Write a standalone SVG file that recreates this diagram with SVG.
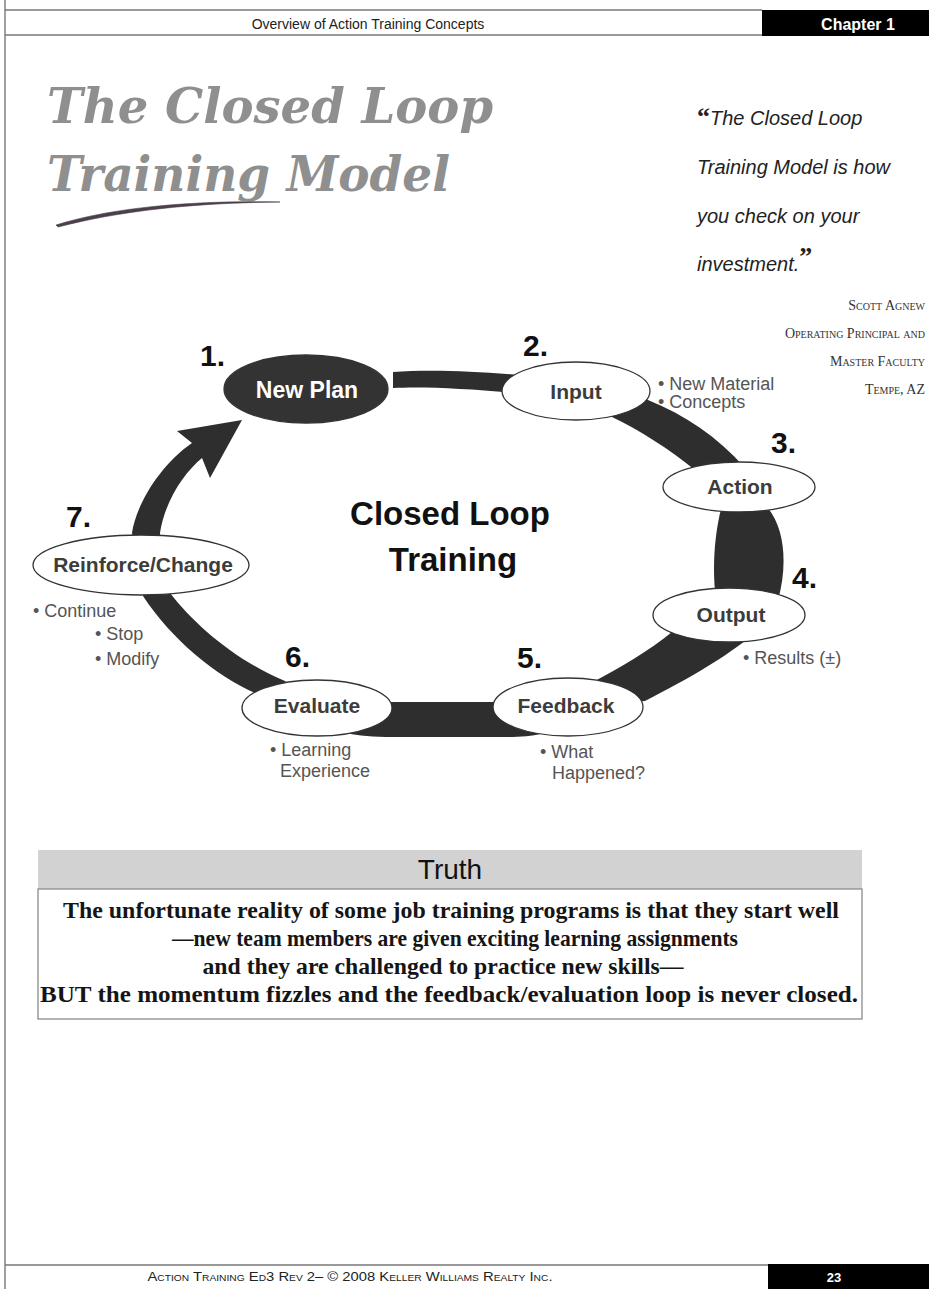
<svg xmlns="http://www.w3.org/2000/svg" width="929" height="1289" viewBox="0 0 929 1289">
<style>
.band{fill:#2e2e2e}
.node{fill:#fff;stroke:#333;stroke-width:1.3}
.lbl{font-family:"Liberation Sans",Arial,sans-serif;font-weight:bold;font-size:21px;fill:#3c3c3c;text-anchor:middle}
.num{font-family:"Liberation Sans",Arial,sans-serif;font-weight:bold;font-size:30px;fill:#111}
.bul{font-family:"Liberation Sans",Arial,sans-serif;font-size:18px;fill:#555}
.quote{font-family:"Liberation Sans",Arial,sans-serif;font-style:italic;font-size:20px;fill:#222}
.qm{font-family:"Liberation Serif",serif;font-style:normal;font-weight:bold;font-size:26px}
.attr{font-family:"Liberation Serif",serif;font-variant:small-caps;font-size:14px;fill:#333;text-anchor:end}
.title{font-family:"DejaVu Serif",serif;font-weight:bold;font-style:italic;font-size:48px;fill:#8f8f8f}
.rule{stroke:#777;stroke-width:1.4;fill:none}
.body{font-family:"Liberation Serif","Times New Roman",serif;font-weight:bold;font-size:23px;fill:#151515;text-anchor:middle}
</style>
<rect width="929" height="1289" fill="#fff"/>

<g id="header">
<line class="rule" x1="5" y1="0" x2="5" y2="1289"/>
<line class="rule" x1="5" y1="10" x2="762" y2="10"/>
<line class="rule" x1="5" y1="35" x2="762" y2="35"/>
<text x="368" y="29" font-family="Liberation Sans,Arial,sans-serif" font-size="14" fill="#222" text-anchor="middle">Overview of Action Training Concepts</text>
<rect x="762" y="10" width="167" height="26" fill="#000"/>
<text x="858" y="30" font-family="Liberation Sans,Arial,sans-serif" font-size="16" font-weight="bold" fill="#fff" text-anchor="middle">Chapter 1</text>
</g>

<g id="title">
<text class="title" x="47" y="123" textLength="446" lengthAdjust="spacingAndGlyphs">The Closed Loop</text>
<text class="title" x="47" y="191" textLength="403" lengthAdjust="spacingAndGlyphs">Training Model</text>
<path d="M56,225 C110,208 190,200 280,202 C190,203 120,211 58,227 Z" fill="#4a3f4a" stroke="#4a3f4a" stroke-width="0.6"/>
</g>

<g id="quote">
<text class="quote" x="697" y="125"><tspan class="qm">“</tspan>The Closed Loop</text>
<text class="quote" x="697" y="174">Training Model is how</text>
<text class="quote" x="697" y="223">you check on your</text>
<text class="quote" x="697" y="271">investment.<tspan class="qm" dy="-6">”</tspan></text>
<text class="attr" x="925" y="310">Scott Agnew</text>
<text class="attr" x="925" y="338">Operating Principal and</text>
<text class="attr" x="925" y="366">Master Faculty</text>
<text class="attr" x="925" y="394">Tempe, AZ</text>
</g>

<g id="connectors">
<path class="band" d="M393,372 C430,369 490,371 545,378 L545,396 C490,390 430,386 393,388 Z"/>
<path class="band" d="M600,386 L648,400 C685,415 718,437 745,468 L720,485 L695,470 C670,450 640,430 612,417 L590,408 Z"/>
<path class="band" d="M765,505 C785,525 788,565 778,600 L716,600 C712,570 714,535 722,505 Z"/>
<path class="band" d="M750,628 L745,641 C720,660 690,678 645,701 L600,705 L593,682 C620,668 650,650 672,632 L690,625 Z"/>
<path class="band" d="M320,718 C335,735 360,737 400,737 L500,737 C530,737 552,736 565,718 L560,704 L520,702 L380,702 L330,704 Z"/>
<path class="band" d="M290,700 L255,693 C215,675 172,640 143,596 L150,585 L170,593 C195,625 235,660 285,681 L300,695 Z"/>
<path class="band" d="M138,560 L132,533 C136,505 160,465 192,443 L177,431 L242,420 L210,478 L202,458 C185,472 165,500 160,533 L162,560 Z"/>
</g>

<g id="center-label">
<text x="450" y="525" font-family="Liberation Sans,Arial,sans-serif" font-weight="bold" font-size="33" fill="#111" text-anchor="middle">Closed Loop</text>
<text x="453" y="571" font-family="Liberation Sans,Arial,sans-serif" font-weight="bold" font-size="33" fill="#111" text-anchor="middle">Training</text>
</g>

<g id="node-newplan">
<ellipse cx="306" cy="389" rx="82" ry="34" fill="#333" stroke="#333" stroke-width="1.3"/>
<text class="lbl" x="307" y="398" style="fill:#fff;font-size:23px">New Plan</text>
<text class="num" x="200" y="366">1.</text>
</g>

<g id="node-input">
<ellipse class="node" cx="576" cy="391" rx="74" ry="29"/>
<text class="lbl" x="576" y="399">Input</text>
<text class="num" x="523" y="356">2.</text>
<text class="bul" x="658" y="390">• New Material</text>
<text class="bul" x="658" y="408">• Concepts</text>
</g>

<g id="node-action">
<ellipse class="node" cx="739" cy="487" rx="76" ry="25"/>
<text class="lbl" x="740" y="494">Action</text>
<text class="num" x="771" y="453">3.</text>
</g>

<g id="node-output">
<ellipse class="node" cx="729" cy="615" rx="76" ry="27"/>
<text class="lbl" x="731" y="622">Output</text>
<text class="num" x="792" y="588">4.</text>
<text class="bul" x="743" y="664">• Results (±)</text>
</g>

<g id="node-feedback">
<ellipse class="node" cx="568" cy="707" rx="75" ry="29"/>
<text class="lbl" x="566" y="713">Feedback</text>
<text class="num" x="517" y="668">5.</text>
<text class="bul" x="540" y="758">• What</text>
<text class="bul" x="552" y="779">Happened?</text>
</g>

<g id="node-evaluate">
<ellipse class="node" cx="317" cy="708" rx="75" ry="28"/>
<text class="lbl" x="317" y="713">Evaluate</text>
<text class="num" x="285" y="667">6.</text>
<text class="bul" x="270" y="756">• Learning</text>
<text class="bul" x="280" y="777">Experience</text>
</g>

<g id="node-reinforce">
<ellipse class="node" cx="141" cy="565" rx="108" ry="30"/>
<text class="lbl" x="143" y="572">Reinforce/Change</text>
<text class="num" x="66" y="527">7.</text>
<text class="bul" x="33" y="617">• Continue</text>
<text class="bul" x="95" y="640">• Stop</text>
<text class="bul" x="95" y="665">• Modify</text>
</g>

<g id="truth-box">
<rect x="38" y="850" width="824" height="39" fill="#d2d2d2"/>
<rect x="38" y="889" width="824" height="130" fill="#fff" stroke="#8a8a8a" stroke-width="1.3"/>
<text x="450" y="879" font-family="Liberation Sans,Arial,sans-serif" font-size="28" fill="#111" text-anchor="middle">Truth</text>
<text class="body" x="451" y="918" textLength="776" lengthAdjust="spacingAndGlyphs">The unfortunate reality of some job training programs is that they start well</text>
<text class="body" x="455" y="946" textLength="566" lengthAdjust="spacingAndGlyphs">—new team members are given exciting learning assignments</text>
<text class="body" x="443" y="974" textLength="481" lengthAdjust="spacingAndGlyphs">and they are challenged to practice new skills—</text>
<text class="body" x="449" y="1002" textLength="818" lengthAdjust="spacingAndGlyphs">BUT the momentum fizzles and the feedback/evaluation loop is never closed.</text>
</g>

<g id="footer">
<line class="rule" x1="5" y1="1265" x2="768" y2="1265"/>
<rect x="768" y="1264" width="161" height="25" fill="#000"/>
<text x="350" y="1281" font-family="Liberation Sans,Arial,sans-serif" font-size="13" font-variant="small-caps" fill="#222" text-anchor="middle" textLength="405" lengthAdjust="spacingAndGlyphs">Action Training Ed3 Rev 2– © 2008 Keller Williams Realty Inc.</text>
<text x="834" y="1282" font-family="Liberation Sans,Arial,sans-serif" font-size="13" font-weight="bold" fill="#fff" text-anchor="middle">23</text>
</g>
</svg>
